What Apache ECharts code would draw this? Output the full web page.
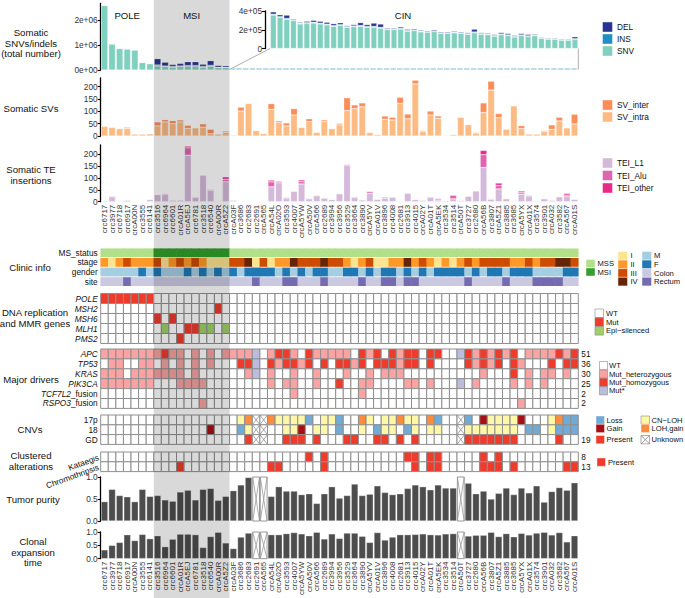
<!DOCTYPE html>
<html><head><meta charset="utf-8">
<script src="https://cdn.jsdelivr.net/npm/echarts@6/dist/echarts.min.js"></script>
<style>html,body{margin:0;padding:0;background:#fff}#c{width:685px;height:598px}</style>
</head><body><div id="c"></div>
<script>
// ---------------- DATA ----------------
const samples = ['crc6717','crc3977','crc6718','crc6917','crcA00N','crc3555','crc6141',
 'crc3516','crc6964','crc6601','crcA01R','crcA5EJ','crc6781','crc3518','crc6540','crcA00R','crcA5Z2',
 'crcA03F','crc3686','crc2683','crc2691','crcA565','crcA54L','crcA02O','crc3593','crc4007','crcA5YW','crcA50V','crcA566','crc2689','crc3994','crc3956','crc3529','crc3664','crc3890','crcA5YV','crcA01V','crc3896','crc4008','crc2681','crc3913','crc4015','crcA02Y','crcA01T','crcA5EK','crc3534','crc3514','crcA50T','crc3727','crc2680','crcA56B','crc3807','crcA5Z1','crc3885','crc3685','crcA5YX','crcA01X','crc3574','crc3901','crcA032','crc3582','crcA567','crcA01S'];
const groupNames = ['POLE','MSI','CIN'];
const groupCounts = [7,10,46];

// Somatic SNVs / indels (total number)
const snvCounts = [2570000,1040000,860000,840000,800000,300000,250000,
 160000,130000,110000,130000,140000,140000,110000,150000,90000,90000,
 357000,332000,312000,297000,262000,267000,272000,262000,252000,237000,247000,227000,232000,237000,227000,227000,217000,202000,202000,207000,185000,190000,177000,172000,180000,162000,162000,167000,162000,152000,167000,152000,147000,132000,147000,137000,122000,137000,127000,137000,109000,99000,99000,89000,89000,97000];
const insCounts = [15000,5000,5000,5000,5000,5000,5000,
 40000,30000,30000,30000,40000,40000,30000,40000,20000,20000,
 9000,8000,9000,8000,7000,8000,8000,8000,8000,8000,8000,7000,8000,9000,8000,9000,9000,7000,7000,8000,7000,8000,7000,7000,8000,7000,7000,7000,7000,7000,9000,7000,7000,7000,8000,8000,7000,8000,8000,7000,6000,6000,6000,6000,6000,8000];
const delCounts = [15000,5000,5000,5000,5000,5000,5000,
 250000,150000,80000,100000,150000,150000,90000,180000,70000,60000,
 25000,20000,35000,10000,10000,15000,20000,20000,20000,20000,20000,10000,15000,30000,20000,35000,35000,10000,10000,15000,12000,12000,10000,10000,12000,10000,10000,10000,10000,10000,30000,10000,10000,10000,15000,15000,10000,15000,15000,10000,8000,8000,8000,8000,8000,20000];

// Somatic SVs
const svIntra = [40,35,30,31,8,8,9, 41,57,50,57,31,33,36,9,8,15,
 4,101,132,22,10,108,54,41,85,35,58,15,58,30,45,103,111,118,13,6,68,65,132,70,211,18,85,72,3,6,76,46,12,95,186,74,28,122,30,8,8,18,27,61,33,49];
const svInter = [0,0,0,4,0,0,0, 16,9,12,8,12,2,13,18,0,5,
 0,16,2,2,2,23,7,12,26,1,12,1,7,1,6,52,15,16,3,2,13,11,25,19,15,4,16,9,1,1,2,1,3,39,36,17,2,2,12,1,1,4,18,15,2,39];

// Somatic TE insertions
const teL1 = [4,21,3,7,1,1,10, 30,30,7,7,197,18,113,48,1,85,
 7,2,2,2,3,63,80,13,45,75,12,25,16,10,34,153,18,8,35,11,15,18,3,36,10,7,17,7,4,12,4,24,46,145,10,54,13,3,32,24,4,13,7,21,21,11];
const teAlu = [0,3,0,0,0,0,1, 0,4,0,1,31,3,0,4,0,10,
 0,0,0,0,0,21,7,5,0,10,3,3,0,0,0,5,3,0,7,0,5,3,0,2,0,0,4,5,0,16,3,0,0,54,3,15,0,0,7,4,0,0,0,0,7,0];
const teOther = [0,0,0,0,0,0,0, 0,0,0,0,7,0,0,0,0,10,
 0,0,0,0,0,7,0,0,0,7,0,0,0,0,0,0,0,0,3,0,0,0,0,0,0,0,0,3,0,0,0,0,0,18,0,10,0,0,6,0,0,0,0,0,7,0];

// Clinic info
const msStatus = ['MSS','MSS','MSS','MSS','MSS','MSS','MSS',
 'MSI','MSI','MSI','MSI','MSI','MSI','MSI','MSI','MSI','MSI',
 'MSS','MSS','MSS','MSS','MSS','MSS','MSS','MSS','MSS','MSS','MSS','MSS','MSS','MSS','MSS','MSS','MSS','MSS','MSS','MSS','MSS','MSS','MSS','MSS','MSS','MSS','MSS','MSS','MSS','MSS','MSS','MSS','MSS','MSS','MSS','MSS','MSS','MSS','MSS','MSS','MSS','MSS','MSS','MSS','MSS','MSS'];
const stage = ['II','I','II','III','II','II','II',
 'III','I','II','III','II','III','II','I','I','I',
 'III','III','IV','I','III','I','II','II','IV','III','III','III','IV','III',
 'III','II','I','II','III','I','I','II','II','IV','II','III','II','I','II','I','II','III','II','III','III','III','III','II','II','III','II','III','III','IV','IV','III'];
const gender = ['M','M','M','M','M','F','M',
 'F','M','M','M','F','M','F','M','F','M',
 'F','M','F','F','F','F','M','F','M','F','M','F','F','M','M',
 'F','F','M','F','M','F','F','M','F','M','F','M','F','F','F','F','M','F','M','F','F','M','F','F','F','M','M','M','M','F','F'];
const site = ['Colon','Colon','Colon','Rectum','Colon','Colon','Colon',
 'Colon','Colon','Colon','Colon','Colon','Colon','Colon','Colon','Colon','Colon',
 'Colon','Colon','Colon','Rectum','Colon','Colon','Colon','Rectum','Rectum','Colon','Colon','Colon','Rectum','Colon','Colon','Colon','Colon',
 'Rectum','Colon','Colon','Rectum','Rectum','Colon','Rectum','Rectum','Colon','Colon','Colon','Colon','Colon','Colon','Rectum','Colon','Colon','Colon','Colon','Rectum','Colon','Colon','Colon','Rectum','Rectum','Rectum','Rectum','Colon','Colon'];

// DNA replication and MMR genes (sample lists per status)
const dnaGenes = ['POLE','MSH2','MSH6','MLH1','PMS2'];
const dnaMut = {POLE:['crc6717','crc3977','crc6718','crc6917','crcA00N','crc3555','crc6141'], MSH2:['crcA00R'], MSH6:['crc3516','crc6601'], MLH1:['crcA5EJ','crc6781'], PMS2:['crcA01R']};
const dnaEpi = {MLH1:['crc6964','crc3518','crc6540','crcA5Z2']};

// Major drivers: w = WT, h = Mut_heterozygous, m = Mut_homozygous, s = Mut*
const driverGenes = ['APC','TP53','KRAS','PIK3CA','TCF7L2_fusion','RSPO3_fusion'];
const driverCounts = ['51','36','30','25','2','2'];
const apcStatus    = 'hhhhhhh'+'hmhhwhwhwh'+'hhhswhmmhwmhhhhh'+'wmhmwmhmmwmmwwsmhmhmhmwhhhhmhm';
const tp53Status   = 'whhwwhh'+'whwhwhwhww'+'wmmswmhmmhmwmwmm'+'hmwmmmhmmwmwwwwmhmhmwmhwwwmwmm';
const krasStatus   = 'hhhwhhh'+'hhhhwhwwww'+'wwhswhwwhwwhwwwh'+'wwhwhhhwwwwwwwwwwhwwwmwhwhhwhw';
const pik3caStatus = 'hhhhhhh'+'wwwhhhhwww'+'wwwwwhwhhwwhwwmw'+'whhwwwwhhwhwwwswhwwwwhwhwhwwww';
const tcf7l2Fusion = ['crc4007','crc3890'];
const rspo3Fusion = ['crc3518','crcA5YX'];

// CNVs: . none, L Loss, G Gain, C CN-LOH, O LOH,gain, X Unknown ; GD: P present
const cnvRows = ['17p','18','GD'];
const cnvCounts = ['','','19'];
const cnv17p = '.................'+'.COXXOCCCCL.CCL.'+'.OC.CCOCC.OL..XL.GCCCCG...COLL';
const cnv18  = '..............G..'+'.LCXX..CCG.CC.L.'+'.C.LCC.LC.CC..XCCCCCCC.LL.CLLL';
const cnvGD  = '.................'+'..PXX..PPP.P...P'+'P..PP.P.P.....XPPPPPPP.....P..';

// Clustered alterations
const clusterRows = ['Kataegis','Chromothripsis'];
const clusterCounts = ['8','13'];
const kataegis = ['crcA50V','crc2689','crc3913','crc4015','crcA01T','crcA5EK','crcA56B','crcA5Z1'];
const chromothripsis = ['crcA01R','crcA54L','crcA02O','crc2689','crc4015','crcA01T','crcA5EK','crcA56B','crc3807','crcA5Z1','crc3685','crcA567','crcA01S'];

// Tumor purity and clonal expansion time (null = unknown)
const purity = [0.44,0.72,0.58,0.55,0.44,0.72,0.56, 0.58,0.48,0.45,0.66,0.70,0.48,0.72,0.74,0.47,0.56,
 0.69,0.82,0.99,null,null,0.56,0.78,0.68,0.68,0.60,0.62,0.40,0.62,0.78,0.52,0.58,0.84,0.58,0.61,0.80,0.65,0.60,0.62,0.74,0.82,0.78,0.71,0.82,0.75,0.75,null,0.86,0.62,0.68,0.50,0.63,0.75,0.60,0.75,0.64,0.80,0.43,0.67,0.76,0.70,0.87];
const clonal = [0.33,0.50,0.61,0.90,0.68,0.91,0.75, 0.86,0.45,0.73,0.92,0.92,0.90,0.42,0.83,0.99,0.59,
 0.38,0.81,0.96,null,null,0.90,0.90,0.94,0.98,0.93,0.86,0.99,0.74,0.93,0.76,0.96,0.96,0.84,0.61,0.98,0.70,0.81,0.90,0.90,0.91,0.93,0.90,0.89,0.93,0.94,null,0.85,0.88,0.88,0.99,0.83,0.94,0.82,0.95,0.89,0.96,0.99,0.89,0.98,0.63,0.86];

// ---------------- STYLE / LAYOUT ----------------
const FONT = 'Liberation Sans, Arial, Helvetica, sans-serif';
const L = 100.7, W = 477.6;
const N = samples.length, colW = W / N;
const C = {
  DEL:'#283593', INS:'#1f8fc4', SNV:'#80d0bf',
  SV_inter:'#fc8d59', SV_intra:'#fdbb84',
  TEI_L1:'#d4b9da', TEI_Alu:'#df65b0', TEI_other:'#e7298a',
  MSS:'#b2df8a', MSI:'#33a02c',
  I:'#fee391', II:'#fe9929', III:'#cc4c02', IV:'#662506',
  M:'#a6cee3', F:'#1f78b4', Colon:'#cbc9e2', Rectum:'#756bb1',
  WT:'#ffffff', Mut:'#ef3b2c', Epi:'#a1d06a',
  het:'#fba3a3', homo:'#ef3b2c', star:'#bcbddc',
  Loss:'#6fabd6', Gain:'#a50f15', CNLOH:'#fff7a8', LOHgain:'#fd8d3c', Present:'#ef3b2c',
  bar:'#4d4d4d', cellLine:'#8f8f8f'
};

const grids = [], xAxes = [], yAxes = [], series = [], graphics = [];
function addGrid(g){ grids.push(g); return grids.length - 1; }

function valuePanel(o){
  const gi = addGrid({left:o.left ?? L, top:o.top, width:o.width ?? W, height:o.height});
  xAxes.push({gridIndex:gi, type:'category', data:o.cats, axisLine:{show:false}, axisTick:{show:false},
    axisLabel: o.showX ? {show:true, rotate:90, interval:0, fontSize:8, color:'#333', margin:3, fontFamily:FONT} : {show:false},
    splitLine:{show:false}});
  yAxes.push({gridIndex:gi, type:'value', min:0, max:o.max, offset:o.offset || 0,
    axisLine:{show:true, lineStyle:{color:'#000', width:1.3}},
    axisTick:{show:true, length:3, lineStyle:{color:'#000', width:1.1}, customValues:o.ticks},
    axisLabel:{show:true, customValues:o.ticks, formatter:o.fmt, fontSize:8.3, color:'#333', margin:3, fontFamily:FONT},
    splitLine:{show:false}});
  return {xi:xAxes.length-1, yi:yAxes.length-1};
}
function stackBars(ax, name, vals, color, stack){
  series.push({type:'bar', name, xAxisIndex:ax.xi, yAxisIndex:ax.yi, stack, data:vals,
    barCategoryGap:'12%', itemStyle:{color, borderColor:'rgba(255,255,255,0.55)', borderWidth:0.5}, silent:true, animation:false});
}

const italicSet = new Set(['POLE','MSH2','MSH6','MLH1','PMS2','APC','TP53','KRAS','PIK3CA']);
function rowLabelFmt(v){
  if (italicSet.has(v)) return '{i|' + v + '}';
  if (v.endsWith('_fusion')) return '{i|' + v.replace('_fusion','') + '}_fusion';
  return v;
}
function heatPanel(o){
  const h = o.rows.length * o.cellH;
  const gi = addGrid({left:L, top:o.top, width:W, height:h});
  xAxes.push({gridIndex:gi, type:'category', data:samples, show:false});
  const xi = xAxes.length - 1;
  yAxes.push({gridIndex:gi, type:'category', data:o.rows, inverse:true, axisLine:{show:false}, axisTick:{show:false},
    axisLabel:{show:true, interval:0, fontSize:8.3, color:'#111', margin:o.margin ?? 3, fontFamily:FONT, rotate:o.rotate || 0,
      formatter:rowLabelFmt, rich:{i:{fontStyle:'italic', fontSize:8.3, fontFamily:FONT, color:'#111'}}}, splitLine:{show:false}});
  const yi = yAxes.length - 1;
  if (o.right) yAxes.push({gridIndex:gi, type:'category', position:'right', data:o.right, inverse:true,
    axisLine:{show:false}, axisTick:{show:false}, axisLabel:{show:true, interval:0, fontSize:8.3, color:'#111', margin:3, fontFamily:FONT}, splitLine:{show:false}});
  const data = [];
  o.codes.forEach((row, r) => row.forEach((k, c) => data.push([c, r, k])));
  const pal = o.palette, bordered = o.bordered;
  series.push({type:'custom', xAxisIndex:xi, yAxisIndex:yi, data, silent:true, animation:false,
    renderItem(params, api){
      const c = api.value(0), r = api.value(1), k = api.value(2);
      const p = api.coord([c, r]); const s = api.size([1, 1]);
      const x = p[0] - s[0]/2, y = p[1] - s[1]/2, w = s[0], hh = s[1];
      if (!bordered){
        return {type:'rect', shape:{x:x-0.3, y:y+0.4, width:w+0.6, height:hh-0.8}, style:{fill:pal[k]}};
      }
      const kids = [{type:'rect', shape:{x, y, width:w, height:hh}, style:{fill:pal[k] || '#fff', stroke:C.cellLine, lineWidth:1}}];
      if (pal[k] === 'X'){
        kids[0].style.fill = '#fff';
        kids.push({type:'line', shape:{x1:x, y1:y, x2:x+w, y2:y+hh}, style:{stroke:C.cellLine, lineWidth:0.8}});
        kids.push({type:'line', shape:{x1:x+w, y1:y, x2:x, y2:y+hh}, style:{stroke:C.cellLine, lineWidth:0.8}});
      }
      return {type:'group', children:kids};
    }});
}

// ---------- Panel 1: SNVs/indels (POLE + MSI on main axis) ----------
const nPM = groupCounts[0] + groupCounts[1];
const mainMask = (arr) => arr.map((v, i) => i < nPM ? v : '-');
const p1 = valuePanel({top:3.5, height:66.5, cats:samples, max:2.65e6, ticks:[0,1e6,2e6],
  fmt:v => v === 0 ? '0e+00' : (v/1e6) + 'e+06'});
stackBars(p1, 'SNV', mainMask(snvCounts), C.SNV, 's1');
stackBars(p1, 'INS', mainMask(insCounts), C.INS, 's1');
stackBars(p1, 'DEL', mainMask(delCounts), C.DEL, 's1');

// ---------- inset: CIN ----------
const cinCats = samples.slice(nPM);
const INSET_L = 270, INSET_W = 308.3, INSET_TOP = 11, INSET_H = 37.5;
const p1b = valuePanel({left:INSET_L, width:INSET_W, top:INSET_TOP, height:INSET_H, cats:cinCats, max:4e5, ticks:[0,2e5,4e5], offset:5,
  fmt:v => v === 0 ? '0' : (v/1e5) + 'e+05'});
stackBars(p1b, 'SNV', snvCounts.slice(nPM), C.SNV, 's2');
stackBars(p1b, 'INS', insCounts.slice(nPM), C.INS, 's2');
stackBars(p1b, 'DEL', delCounts.slice(nPM), C.DEL, 's2');

// ---------- Panel 2: SVs ----------
const p2 = valuePanel({top:78, height:58, cats:samples, max:235, ticks:[0,50,100,150,200], fmt:v => String(v)});
stackBars(p2, 'SV_intra', svIntra, C.SV_intra, 's3');
stackBars(p2, 'SV_inter', svInter, C.SV_inter, 's3');

// ---------- Panel 3: TE insertions ----------
const p3 = valuePanel({top:145, height:56.7, cats:samples, max:240, ticks:[0,50,100,150,200], fmt:v => String(v), showX:true});
stackBars(p3, 'TEI_L1', teL1, C.TEI_L1, 's4');
stackBars(p3, 'TEI_Alu', teAlu, C.TEI_Alu, 's4');
stackBars(p3, 'TEI_other', teOther, C.TEI_other, 's4');

// ---------- Clinic info ----------
heatPanel({top:248, cellH:9.6, rows:['MS_status','stage','gender','site'], bordered:false,
  palette:C, codes:[msStatus, stage, gender, site]});

// ---------- DNA replication ----------
const dnaCodes = dnaGenes.map(g => samples.map(s => (dnaMut[g]||[]).includes(s) ? 'Mut' : (dnaEpi[g]||[]).includes(s) ? 'Epi' : 'WT'));
heatPanel({top:293.5, cellH:10, rows:dnaGenes, bordered:true, palette:C, codes:dnaCodes});

// ---------- Major drivers ----------
const drvMap = {w:'WT', h:'het', m:'homo', s:'star'};
const drvCodes = [apcStatus, tp53Status, krasStatus, pik3caStatus].map(s => s.split('').map(ch => drvMap[ch]));
drvCodes.push(samples.map(s => tcf7l2Fusion.includes(s) ? 'het' : 'WT'));
drvCodes.push(samples.map(s => rspo3Fusion.includes(s) ? 'het' : 'WT'));
heatPanel({top:349, cellH:9.9, rows:driverGenes, right:driverCounts, bordered:true, palette:C, codes:drvCodes});

// ---------- CNVs ----------
const cnvMap = {'.':'WT', L:'Loss', G:'Gain', C:'CNLOH', O:'LOHgain', X:'UNK', P:'Present'};
const palCnv = Object.assign({}, C, {UNK:'X'});
heatPanel({top:415, cellH:9.8, rows:cnvRows, right:cnvCounts, bordered:true, palette:palCnv,
  codes:[cnv17p, cnv18, cnvGD].map(s => s.split('').map(ch => cnvMap[ch]))});

// ---------- Clustered alterations ----------
heatPanel({top:452, cellH:9.8, rows:clusterRows, right:clusterCounts, bordered:true, palette:C, rotate:20, margin:2,
  codes:[kataegis, chromothripsis].map(list => samples.map(s => list.includes(s) ? 'Present' : 'WT'))});

// ---------- Tumor purity / clonal expansion time ----------
function fracPanel(top, vals, showX){
  const ax = valuePanel({top, height:44, cats:samples, max:1, ticks:[0,0.5,1], fmt:v => v.toFixed(1), showX});
  series.push({type:'bar', xAxisIndex:ax.xi, yAxisIndex:ax.yi, data:vals.map(v => v === null ? '-' : v), barCategoryGap:'10%',
    itemStyle:{color:C.bar, borderColor:'rgba(255,255,255,0.6)', borderWidth:0.5}, silent:true, animation:false});
  const unk = vals.map((v, i) => v === null ? [i, 1] : null).filter(Boolean);
  series.push({type:'custom', xAxisIndex:ax.xi, yAxisIndex:ax.yi, data:unk, silent:true, animation:false,
    renderItem(params, api){
      const i = api.value(0);
      const top1 = api.coord([i, api.value(1)]), bot = api.coord([i, 0]);
      const w = api.size([1, 0])[0] * 0.9;
      const x0 = top1[0] - w/2, x1 = top1[0] + w/2;
      return {type:'group', children:[
        {type:'rect', shape:{x:x0, y:top1[1], width:w, height:bot[1]-top1[1]}, style:{fill:'#fff', stroke:'#999', lineWidth:1}},
        {type:'line', shape:{x1:x0, y1:top1[1], x2:x1, y2:bot[1]}, style:{stroke:'#999', lineWidth:0.8}},
        {type:'line', shape:{x1:x1, y1:top1[1], x2:x0, y2:bot[1]}, style:{stroke:'#999', lineWidth:0.8}}]};
    }});
}
fracPanel(477, purity, false);
fracPanel(532, clonal, true);

// ---------- MSI shading band (overlay over all panels) ----------
{
  const gi = addGrid({left:L, top:0, width:W, height:598});
  xAxes.push({gridIndex:gi, type:'category', data:samples, show:false});
  yAxes.push({gridIndex:gi, type:'value', min:0, max:1, show:false});
  const first = groupCounts[0], last = groupCounts[0] + groupCounts[1] - 1;
  series.push({type:'custom', xAxisIndex:xAxes.length-1, yAxisIndex:yAxes.length-1, data:[[first, last]], z:50, silent:true, animation:false,
    renderItem(params, api){
      const a = api.coord([api.value(0), 0]), b = api.coord([api.value(1), 1]);
      const bw = api.size([1, 0])[0];
      return {type:'rect', shape:{x:a[0]-bw/2, y:b[1], width:(b[0]+bw/2)-(a[0]-bw/2), height:a[1]-b[1]}, style:{fill:'rgba(0,0,0,0.15)'}};
    }});
}

// ---------- annotations & legends ----------
function txt(text, x, y, o = {}){
  graphics.push({type:'text', silent:true, z:60, style:{text, x, y, fill:o.color || '#111', fontSize:o.size || 8.3, fontFamily:FONT,
    align:o.align || 'left', verticalAlign:'middle', lineHeight:o.lh || 10.6, fontStyle:o.italic ? 'italic' : 'normal'}});
}
function box(x, y, w, h, fill, stroke){
  graphics.push({type:'rect', silent:true, z:60, shape:{x, y, width:w, height:h}, style:{fill, stroke:stroke || 'rgba(255,255,255,0.7)', lineWidth:0.6}});
}
function line(x1, y1, x2, y2, stroke, w, dash){
  graphics.push({type:'line', silent:true, z:60, shape:{x1, y1, x2, y2}, style:{stroke, lineWidth:w, lineDash:dash || null}});
}
// Panel titles (left)
const T = 9.6;
txt('Somatic\nSNVs/indels\n(total number)', 31, 43, {align:'center', size:T});
txt('Somatic SVs', 31, 108, {align:'center', size:T});
txt('Somatic TE\ninsertions', 31, 175, {align:'center', size:T});
txt('Clinic info', 30, 267.5, {align:'center', size:T});
txt('DNA replication\nand MMR genes', 35, 318, {align:'center', size:T});
txt('Major drivers', 31, 379, {align:'center', size:T});
txt('CNVs', 30, 429.5, {align:'center', size:T});
txt('Clustered\nalterations', 31, 461, {align:'center', size:T});
txt('Tumor purity', 33, 499, {align:'center', size:T});
txt('Clonal\nexpansion\ntime', 33, 552, {align:'center', size:T});
// Group labels
const colX = i => L + (i + 0.5) * colW;
txt(groupNames[0], colX(3), 15, {align:'center', size:9.6});
txt(groupNames[1], colX(11.5), 15, {align:'center', size:9.6});
txt(groupNames[2], 403, 15, {align:'center', size:9.6});
// zoom connectors
const cinLeft = L + nPM * colW, right = L + W;
line(INSET_L, INSET_TOP + INSET_H, cinLeft, 69.5, '#9a9a9a', 0.8);
line(right, INSET_TOP + INSET_H, right, 69.5, '#9a9a9a', 0.8);
line(cinLeft, 69, right, 69, '#a9d3df', 1.4, [5.5, 1.2]);
// Legends
const LF = 7.6;
function legendCol(items, x, y0, step, size, tx){
  items.forEach((it, i) => { box(x, y0 + i*step, size, size, it[1]); txt(it[0], tx, y0 + i*step + size/2, {size:8.3}); });
}
legendCol([['DEL',C.DEL],['INS',C.INS],['SNV',C.SNV]], 602.5, 22, 12, 10, 617);
legendCol([['SV_inter',C.SV_inter],['SV_intra',C.SV_intra]], 602.5, 100, 12, 10, 617);
legendCol([['TEI_L1',C.TEI_L1],['TEI_Alu',C.TEI_Alu],['TEI_other',C.TEI_other]], 602.5, 158, 12.5, 10, 617);
// clinic legend
box(586, 259.5, 9, 8, C.MSS); txt('MSS', 597.5, 263.5, {size:LF});
box(586, 268, 9, 8, C.MSI); txt('MSI', 597.5, 272, {size:LF});
[['I',C.I],['II',C.II],['III',C.III],['IV',C.IV]].forEach((it, i) => { box(618, 251.5 + i*8.6, 9.5, 8.6, it[1]); txt(it[0], 630.5, 255.8 + i*8.6, {size:LF}); });
[['M',C.M],['F',C.F],['Colon',C.Colon],['Rectum',C.Rectum]].forEach((it, i) => { box(642, 251.5 + i*8.6, 9.5, 8.6, it[1]); txt(it[0], 654, 255.8 + i*8.6, {size:LF}); });
// DNA legend
[['WT','#fff'],['Mut',C.Mut],['Epi\u2212silenced',C.Epi]].forEach((it, i) => { box(595, 309 + i*8.8, 8.5, 8.5, it[1], '#888'); txt(it[0], 606, 313.2 + i*8.8, {size:LF}); });
// drivers legend
[['WT','#fff'],['Mut_heterozygous',C.het],['Mut_homozygous',C.homo],['Mut*',C.star]].forEach((it, i) => { box(599.5, 361.5 + i*8.4, 8, 8.2, it[1], '#888'); txt(it[0], 609, 365.6 + i*8.4, {size:LF}); });
// CNV legend
box(596, 416, 8.5, 8.3, C.Loss); txt('Loss', 606.5, 420.2, {size:LF});
box(596, 424.3, 8.5, 8.3, C.Gain); txt('Gain', 606.5, 428.5, {size:LF});
box(641, 416, 8.5, 8.3, C.CNLOH, '#888'); txt('CN\u2212LOH', 651.5, 420.2, {size:LF});
box(641, 424.3, 8.5, 8.3, C.LOHgain); txt('LOH,gain', 651.5, 428.5, {size:LF});
box(596, 435.5, 8.5, 8.3, C.Present); txt('Present', 606.5, 439.7, {size:LF});
box(641, 435.5, 8.5, 8.3, '#fff', '#777'); line(641, 435.5, 649.5, 443.8, '#777', 0.7); line(649.5, 435.5, 641, 443.8, '#777', 0.7); txt('Unknown', 651.5, 439.7, {size:LF});
// clustered legend
box(597, 458, 8.5, 8.3, C.Present); txt('Present', 608, 462.2, {size:LF});

const chart = echarts.init(document.getElementById('c'), null, {renderer:'svg', width:685, height:598});
chart.setOption({animation:false, backgroundColor:'#fff', textStyle:{fontFamily:FONT},
  grid:grids, xAxis:xAxes, yAxis:yAxes, series, graphic:graphics});
</script></body></html>
